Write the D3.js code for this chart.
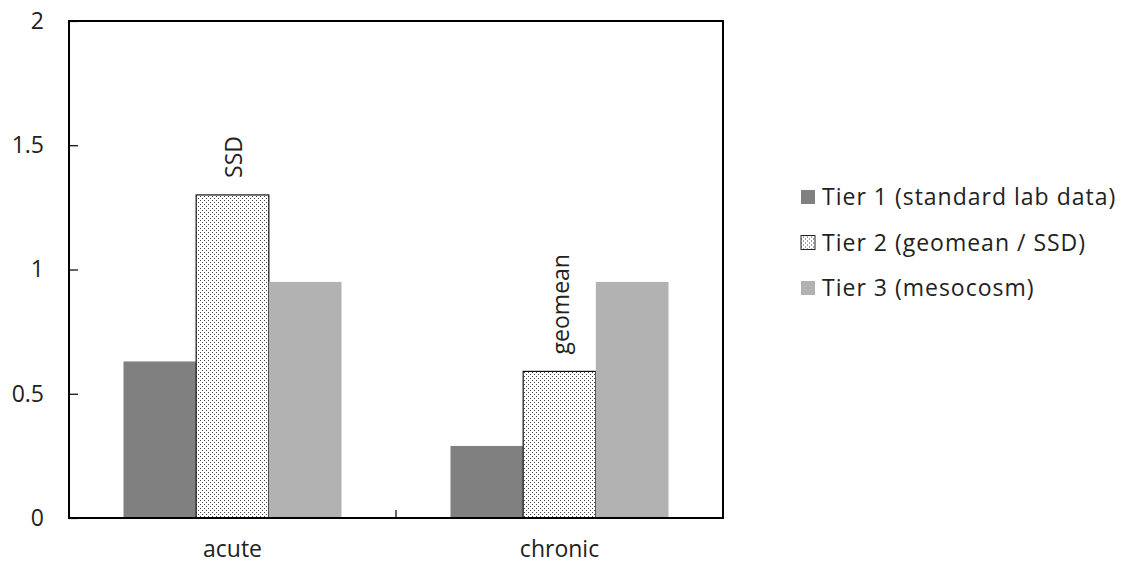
<!DOCTYPE html>
<html><head><meta charset="utf-8">
<script src="https://cdn.jsdelivr.net/npm/d3@7"></script>
<style>body{margin:0;background:#fff}svg{display:block}text{font-family:"Open Sans","Liberation Sans",sans-serif;fill:#222}</style>
</head><body><svg id="c" width="1129" height="565"></svg>
<script>
const categories = ["acute", "chronic"];
const seriesNames = ["Tier 1 (standard lab data)", "Tier 2 (geomean / SSD)", "Tier 3 (mesocosm)"];
const tier1 = [0.63, 0.29];
const tier2 = [1.3, 0.59];
const tier3 = [0.95, 0.95];
const barLabels = [{cat: "acute", series: 1, text: "SSD"}, {cat: "chronic", series: 1, text: "geomean"}];
const yTicks = [0, 0.5, 1, 1.5, 2];

const FS = 23;
const svg = d3.select("#c");
const m = {l: 69, t: 21, r: 723, b: 518};
const defs = svg.append("defs");
const pat = defs.append("pattern").attr("id", "dots").attr("patternUnits", "userSpaceOnUse").attr("width", 4).attr("height", 4);
pat.append("rect").attr("width", 4).attr("height", 4).attr("fill", "#fff");
pat.append("rect").attr("x", 0).attr("y", 0).attr("width", 1).attr("height", 1).attr("fill", "#444");
pat.append("rect").attr("x", 2).attr("y", 2).attr("width", 1).attr("height", 1).attr("fill", "#444");

const fills = ["#808080", "url(#dots)", "#b2b2b2"];
const x0 = d3.scaleBand().domain(categories).range([m.l, m.r]).paddingInner(0).paddingOuter(0);
const x1 = d3.scaleBand().domain([0, 1, 2]).range([0, x0.bandwidth()]).paddingOuter(0.75);
const y = d3.scaleLinear().domain([0, 2]).range([m.b, m.t]);

const series = [tier1, tier2, tier3];
const data = [];
categories.forEach((c, i) => series.forEach((s, j) => data.push({c, j, v: s[i]})));

svg.selectAll("rect.bar").data(data).enter().append("rect").attr("class", "bar")
  .attr("x", d => x0(d.c) + x1(d.j))
  .attr("y", d => y(d.v))
  .attr("width", x1.bandwidth())
  .attr("height", d => y(0) - y(d.v))
  .attr("fill", d => fills[d.j])
  .attr("stroke", d => d.j === 1 ? "#111" : "none")
  .attr("stroke-width", 1.2);

// frame
svg.append("rect").attr("x", m.l).attr("y", m.t).attr("width", m.r - m.l).attr("height", m.b - m.t)
  .attr("fill", "none").attr("stroke", "#000").attr("stroke-width", 2);

// y axis
const yAxis = d3.axisRight(y).tickValues(yTicks).tickSize(9).tickFormat(d => d);
const ya = svg.append("g").attr("transform", `translate(${m.l},0)`).call(yAxis);
ya.select(".domain").remove();
ya.selectAll("line").attr("stroke", "#000").attr("stroke-width", 1.2);
ya.selectAll("text").attr("x", -25).attr("text-anchor", "end").attr("font-size", FS).attr("fill", "#222")
  .attr("font-family", '"Open Sans","Liberation Sans",sans-serif');

// x axis
const xa = svg.append("g").attr("transform", `translate(0,${m.b})`).call(d3.axisBottom(x0).tickSize(0).tickPadding(23));
xa.select(".domain").remove();
xa.selectAll("text").attr("font-size", FS).attr("fill", "#222").attr("font-family", '"Open Sans","Liberation Sans",sans-serif');
svg.append("line").attr("x1", x0("chronic")).attr("x2", x0("chronic")).attr("y1", m.b).attr("y2", m.b - 8)
  .attr("stroke", "#000").attr("stroke-width", 1.2);

// bar labels
barLabels.forEach(b => {
  const ci = categories.indexOf(b.cat);
  const v = series[b.series][ci];
  const cx = x0(b.cat) + x1(b.series) + x1.bandwidth() / 2;
  svg.append("text").attr("transform", `translate(${cx + 9},${y(v) - 17}) rotate(-90)`)
    .attr("font-size", FS).text(b.text);
});

// legend
const lg = svg.append("g").attr("transform", "translate(801,197)");
seriesNames.forEach((n, i) => {
  const g = lg.append("g").attr("transform", `translate(0,${i * 45.5})`);
  g.append("rect").attr("x", 0).attr("y", -7).attr("width", 14).attr("height", 14).attr("fill", fills[i])
    .attr("stroke", i === 1 ? "#222" : "none").attr("stroke-width", 1);
  g.append("text").attr("x", 21).attr("y", 0).attr("dy", "0.36em").attr("font-size", FS)
    .attr("letter-spacing", 1).text(n);
});
</script></body></html>
